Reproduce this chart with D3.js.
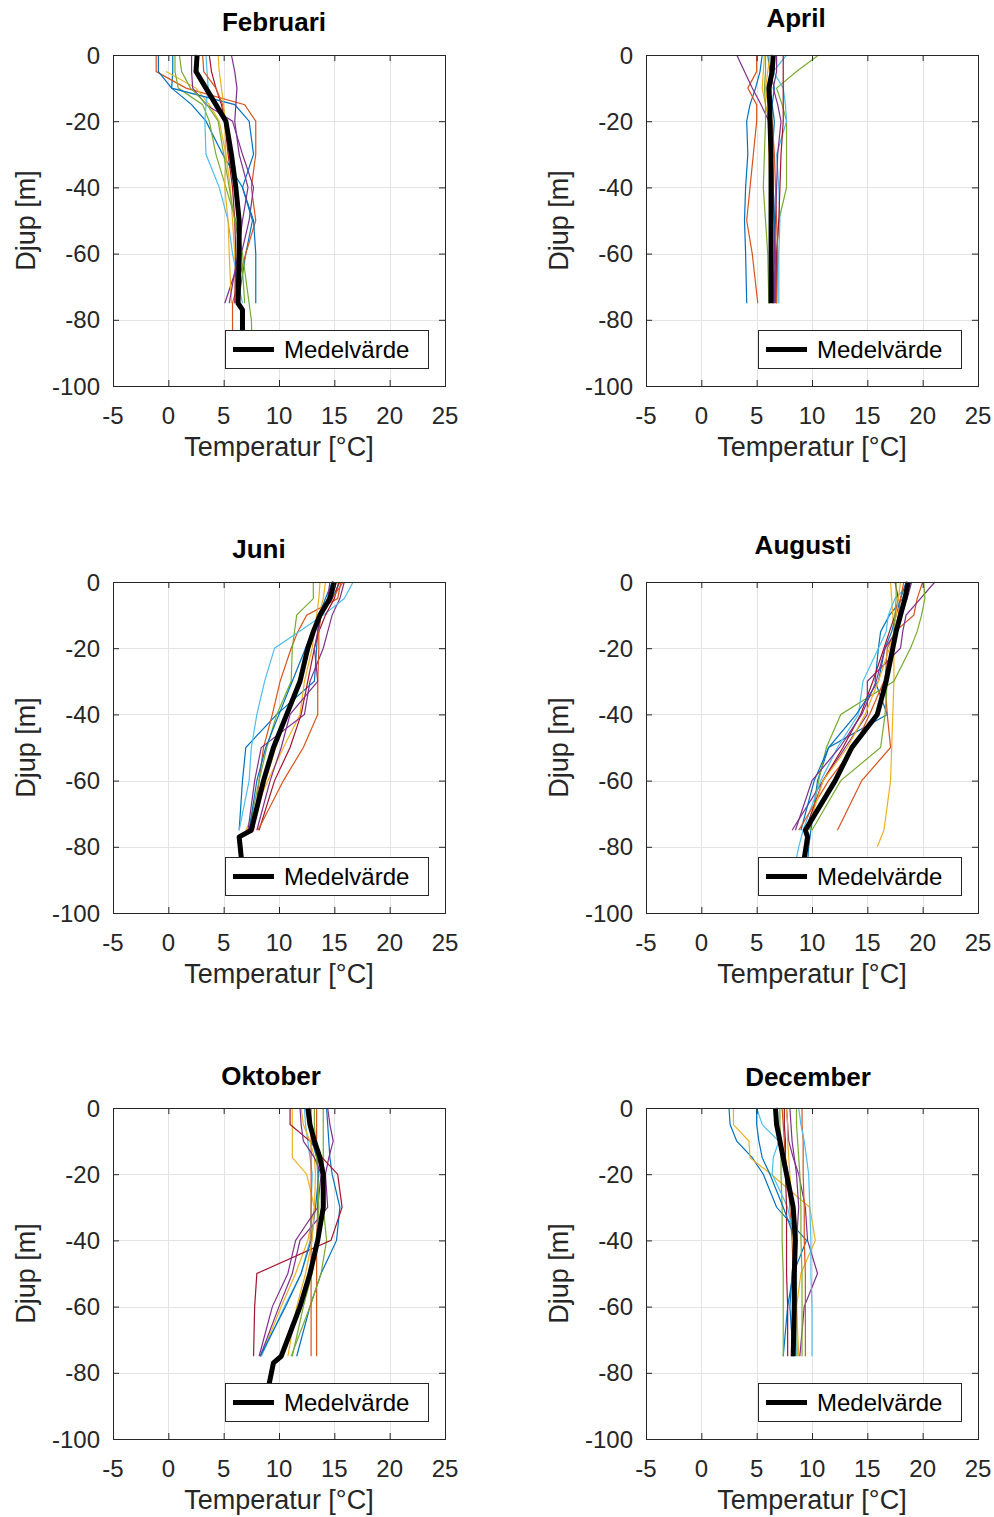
<!DOCTYPE html>
<html lang="sv">

<head>
    <meta charset="UTF-8">
    <title>Temperaturprofiler</title>
    <script src="https://d3js.org/d3.v7.min.js"></script>
    <style>
        body { margin: 0; background: #fff; }
        svg text { font-family: "Liberation Sans", Arial, sans-serif; }
    </style>
</head>

<body>
    <div id="chart"></div>

    <script>
        // depth levels [m] shared by all profiles (index 10/11 only used by the deep casts)
        const depths = [0, -5, -10, -15, -20, -30, -40, -50, -60, -75, -80, -90];
        // depth levels for the mean line
        const meanDepths = [0, -5, -10, -15, -20, -30, -40, -50, -60, -75, -77, -90];

        const months = ["Februari", "April", "Juni", "Augusti", "Oktober", "December"];

        const xTicks = [-5, 0, 5, 10, 15, 20, 25];
        const yTicks = [0, -20, -40, -60, -80, -100];

        // temperature [°C] per profile, one value per depth level (null = no value)
        const febProfiles = [
            [0.4, 0.4, 0.3, 2.1, 3.4, 4.9, 6.7, 7.6, 7.0, 6.3],
            [-1.1, -1.1, 1.6, 6.9, 7.9, 7.9, 7.5, 7.9, 7.0, 5.8, 5.8, 5.8],
            [null, -0.2, 2.5, 3.7, 4.6, 5.2, 5.6, 5.8, 6.0, 6.1],
            [2.1, 2.1, 2.2, 3.4, 5.8, 6.7, 7.7, 7.3, 6.6, 5.1],
            [0.6, 0.6, 0.9, 3.1, 3.7, 4.3, 5.2, 6.1, 6.7, 7.3, 7.5, 7.6],
            [3.4, 3.5, 3.6, 3.4, 3.3, 3.4, 4.6, 5.4, 5.8, 6.7],
            [3.7, 3.9, 4.3, 4.8, 5.1, 5.4, 5.8, 6.0, 6.1, 6.0],
            [-0.9, -0.9, 0.3, 6.0, 7.3, 7.7, 6.7, 7.7, 7.9, 7.9],
            [3.1, 3.2, 4.3, 4.9, 5.2, 5.5, 6.0, 6.3, 6.5, 6.4],
            [4.5, 4.6, 4.8, 5.0, 5.1, 5.2, 5.1, 5.4, 5.5, 5.7],
            [5.7, 6.0, 6.2, 6.1, 6.0, 6.4, 7.2, 6.7, 6.3, 5.5],
            [1.0, 1.2, 2.0, 3.5, 4.5, 5.0, 5.5, 6.0, 6.6, 6.9]
        ];
        const febMean = [2.6, 2.5, 3.4, 4.3, 5.2, 5.7, 6.1, 6.4, 6.4, 6.3, 6.7, 6.7];

        const aprProfiles = [
            [5.5, 5.3, 4.9, 4.4, 4.1, 4.2, 4.0, 3.9, 4.0, 4.1],
            [5.0, 5.0, 4.2, 5.0, 5.0, 4.7, 4.4, 4.1, 4.6, 5.1],
            [5.7, 5.6, 5.5, 5.8, 6.1, 6.1, 6.2, 6.2, 6.2, 6.2],
            [3.2, 3.9, 4.6, 5.4, 6.1, 6.4, 6.5, 6.6, 6.6, 6.6],
            [10.6, 8.6, 6.8, 7.3, 7.7, 7.7, 7.7, 7.0, 6.8, 6.1],
            [7.7, 6.5, 7.4, 7.6, 7.7, 6.8, 7.0, 7.1, 7.0, 7.0],
            [7.4, 7.4, 7.4, 7.4, 7.4, 7.2, 7.1, 7.0, 6.8, 6.8],
            [6.0, 6.2, 6.6, 6.4, 6.6, 6.4, 6.5, 6.6, 6.7, 6.7],
            [6.6, 6.5, 6.3, 6.2, 6.4, 6.6, 6.7, 6.8, 6.9, 6.8],
            [6.2, 6.0, 5.8, 6.0, 6.2, 6.3, 6.3, 6.4, 6.4, 6.5],
            [6.8, 6.8, 6.5, 6.9, 7.2, 6.9, 6.8, 6.7, 6.6, 6.5],
            [5.8, 5.8, 5.7, 5.8, 5.8, 5.7, 5.6, 5.8, 6.0, 6.1]
        ];
        const aprMean = [6.5, 6.4, 6.1, 6.2, 6.2, 6.3, 6.3, 6.3, 6.3, 6.3];

        const junProfiles = [
            [15.5, 14.8, 13.7, 13.5, 13.4, 13.2, 9.8, 7.0, 6.7, 6.4],
            [15.6, 15.3, 12.5, 11.7, 11.1, 10.1, 9.4, 8.6, 8.2, 7.7],
            [13.7, 13.6, 13.4, 13.2, 13.0, 12.3, 11.9, 10.4, 9.0, 7.0],
            [15.9, 15.5, 14.8, 14.4, 14.0, 12.8, 12.3, 8.4, 7.8, 7.2],
            [13.1, 13.1, 11.6, 11.4, 11.2, 11.1, 9.8, 8.9, 8.2, 7.3],
            [16.7, 15.9, 14.0, 11.8, 9.6, 8.7, 8.0, 7.5, 7.3, 6.4],
            [15.4, 15.0, 14.2, 13.6, 13.2, 12.6, 12.0, 11.0, 9.6, 8.2],
            [14.8, 14.2, 13.6, 13.0, 12.4, 11.2, 10.0, 8.8, 8.0, 7.3],
            [15.8, 14.8, 13.8, 13.6, 13.6, 13.5, 13.5, 12.2, 10.4, 8.1],
            [14.2, 14.0, 13.6, 13.1, 12.6, 11.8, 10.8, 9.7, 8.8, 7.6],
            [14.6, 14.4, 13.8, 13.5, 13.2, 13.5, 11.0, 10.2, 9.2, 8.0]
        ];
        const junMean = [15.0, 14.6, 13.7, 13.1, 12.6, 11.9, 10.7, 9.5, 8.6, 7.5, 6.4, 6.8];

        const augProfiles = [
            [18.7, 18.2, 17.0, 16.2, 16.0, 15.7, 16.8, 11.5, 10.5, 9.9, 9.7, 9.5],
            [20.0, 19.5, 19.2, 17.5, 16.8, 16.6, 16.8, 17.1, 14.5, 12.3],
            [17.1, 17.2, 17.3, 17.4, 17.4, 17.4, 17.3, 17.2, 17.1, 16.5, 15.9],
            [21.1, 19.8, 18.5, 18.2, 18.0, 15.0, 15.0, 13.0, 11.0, 8.2],
            [20.1, 20.2, 19.9, 19.5, 18.9, 17.4, 12.6, 11.3, 10.6, 9.8],
            [19.0, 17.5, 16.9, 16.7, 16.0, 14.6, 14.2, 12.3, 10.8, 9.2, 8.8, 8.2],
            [17.5, 17.8, 17.5, 17.0, 16.5, 15.5, 14.4, 12.8, 11.0, 9.4],
            [18.5, 18.0, 17.6, 17.2, 16.6, 16.0, 14.0, 11.5, 10.2, 9.0],
            [18.3, 18.0, 17.8, 17.5, 17.2, 16.5, 15.2, 13.8, 11.5, 8.8],
            [18.0, 17.8, 17.6, 17.4, 17.0, 16.0, 14.8, 13.2, 11.0, 9.6],
            [19.0, 18.6, 18.0, 17.6, 16.6, 15.8, 14.5, 12.5, 10.0, 8.5],
            [17.6, 17.6, 17.5, 17.4, 17.2, 16.8, 16.6, 16.2, 12.6, 10.0]
        ];
        const augMean = [18.7, 18.4, 18.0, 17.6, 17.3, 16.7, 15.9, 13.6, 12.1, 9.4, 9.6, 9.0];

        const oktProfiles = [
            [14.3, 14.4, 14.5, 14.6, 14.8, 15.5, 15.2, 13.8, 12.8, 11.6],
            [13.4, 13.4, 13.4, 13.5, 13.5, 13.5, 13.4, 13.4, 13.4, 13.4],
            [11.2, 11.2, 11.2, 11.2, 12.5, 13.2, 12.6, 11.5, 10.2, 8.4],
            [14.4, 14.6, 14.9, 14.5, 14.2, 14.4, 11.9, 11.2, 10.0, 8.3],
            [14.0, 14.0, 14.0, 14.0, 14.0, 14.0, 14.3, 13.8, 12.8, 11.1],
            [12.3, 12.4, 12.6, 12.8, 13.0, 12.9, 12.8, 12.0, 10.5, 8.4],
            [11.0, 11.0, 12.8, 13.9, 15.3, 15.7, 14.7, 8.0, 7.8, 7.7],
            [12.8, 12.9, 13.0, 13.4, 13.6, 13.3, 12.9, 12.0, 10.6, 8.3],
            [12.9, 12.9, 12.9, 12.9, 12.9, 12.9, 12.9, 12.9, 12.9, 12.9],
            [12.0, 12.2, 12.8, 13.2, 13.3, 13.2, 13.0, 12.4, 11.6, 10.8],
            [11.9, 12.0, 12.2, 13.2, 13.8, 13.5, 11.5, 10.8, 9.4, 8.2],
            [13.2, 13.2, 13.3, 13.4, 13.5, 13.6, 13.4, 13.0, 12.2, 11.2]
        ];
        const oktMean = [12.6, 12.8, 13.2, 13.7, 14.0, 14.0, 13.5, 12.8, 11.9, 10.2, 9.5, 8.7];

        const decProfiles = [
            [2.5, 2.6, 3.2, 4.6, 5.6, 6.8, 9.5, 8.3, 7.8, 7.4],
            [7.3, 7.4, 7.5, 7.6, 7.8, 8.0, 8.2, 8.3, 8.3, 8.4],
            [2.9, 2.9, 4.3, 4.4, 6.3, 9.8, 10.3, 9.0, 8.6, 8.8],
            [7.7, 7.8, 7.9, 8.3, 8.8, 9.4, 9.6, 10.5, 9.3, 8.9],
            [7.1, 7.1, 7.2, 7.2, 7.2, 7.3, 7.3, 7.4, 7.4, 7.4],
            [5.0, 5.5, 7.0, 6.5, 6.4, 7.8, 8.4, 8.6, 8.6, 8.6],
            [7.5, 7.5, 7.6, 7.6, 7.6, 7.7, 7.7, 7.7, 7.8, 7.8],
            [5.0, 5.0, 5.2, 5.5, 6.2, 7.4, 8.5, 8.2, 8.0, 8.3],
            [9.1, 9.1, 9.2, 9.2, 9.2, 9.3, 9.3, 9.4, 9.4, 9.4],
            [7.7, 7.8, 7.8, 7.9, 8.0, 8.2, 8.3, 8.4, 8.6, 8.7],
            [8.0, 8.1, 8.2, 8.4, 8.6, 8.8, 8.6, 8.4, 8.3, 8.2],
            [8.6, 8.6, 8.7, 8.8, 8.9, 9.0, 9.0, 9.1, 9.1, 9.1],
            [8.8, 9.0, 9.3, 9.5, 9.7, 9.8, 9.9, 9.9, 10.0, 10.0]
        ];
        const decMean = [6.7, 6.8, 7.1, 7.4, 7.7, 8.3, 8.5, 8.4, 8.4, 8.3];

        const allProfiles = [febProfiles, aprProfiles, junProfiles, augProfiles, oktProfiles, decProfiles];
        const allMeans = [febMean, aprMean, junMean, augMean, oktMean, decMean];

        // MATLAB default line colours
        const colors = ["#0072BD", "#D95319", "#EDB120", "#7E2F8E", "#77AC30", "#4DBEEE", "#A2142F"];

        // panel layout
        const colX = [113, 646];
        const rowY = [55, 582, 1108];
        const panelW = 332, panelH = 331;
        // title position per panel (x centre, baseline)
        const titlePos = [[274, 31], [796, 27], [259, 558], [803, 554], [271, 1085], [808, 1086]];

        const axisColor = "#262626";
        const gridColor = "#e3e3e3";

        const svg = d3.select("#chart")
            .append("svg")
            .attr("width", 994)
            .attr("height", 1517);

        months.forEach((month, i) => {
            const left = colX[i % 2];
            const top = rowY[Math.floor(i / 2)];

            const x = d3.scaleLinear().domain([-5, 25]).range([0, panelW]);
            const y = d3.scaleLinear().domain([-100, 0]).range([panelH, 0]);

            const g = svg.append("g")
                .attr("transform", `translate(${left},${top})`);

            // grid
            g.selectAll(".vgrid")
                .data(xTicks.slice(1, -1))
                .enter()
                .append("line")
                .attr("x1", d => Math.round(x(d)) + 0.5)
                .attr("x2", d => Math.round(x(d)) + 0.5)
                .attr("y1", 0)
                .attr("y2", panelH)
                .attr("stroke", gridColor);

            g.selectAll(".hgrid")
                .data(yTicks.slice(1, -1))
                .enter()
                .append("line")
                .attr("y1", d => Math.round(y(d)) + 0.5)
                .attr("y2", d => Math.round(y(d)) + 0.5)
                .attr("x1", 0)
                .attr("x2", panelW)
                .attr("stroke", gridColor);

            // profiles
            const line = d3.line()
                .defined(d => d[0] !== null)
                .x(d => x(d[0]))
                .y(d => y(d[1]));

            allProfiles[i].forEach((temps, k) => {
                g.append("path")
                    .datum(temps.map((t, j) => [t, depths[j]]))
                    .attr("fill", "none")
                    .attr("stroke", colors[k % colors.length])
                    .attr("stroke-width", 1.2)
                    .attr("d", line);
            });

            // mean line
            g.append("path")
                .datum(allMeans[i].map((t, j) => [t, meanDepths[j]]))
                .attr("fill", "none")
                .attr("stroke", "#000")
                .attr("stroke-width", 5)
                .attr("stroke-linejoin", "round")
                .attr("d", line);

            // axes: ticks inside on all four sides
            const bottomAxis = d3.axisBottom(x).tickValues(xTicks).tickSize(-6).tickFormat("");
            const topAxis = d3.axisTop(x).tickValues(xTicks).tickSize(-6).tickFormat("");
            const leftAxis = d3.axisLeft(y).tickValues(yTicks).tickSize(-6).tickFormat("");
            const rightAxis = d3.axisRight(y).tickValues(yTicks).tickSize(-6).tickFormat("");

            [
                [bottomAxis, `translate(0,${panelH})`],
                [topAxis, "translate(0,0)"],
                [leftAxis, "translate(0,0)"],
                [rightAxis, `translate(${panelW},0)`]
            ].forEach(([ax, tr]) => {
                const a = g.append("g").attr("transform", tr).call(ax);
                a.select(".domain").remove();
                a.selectAll("line").attr("stroke", axisColor);
            });

            g.append("rect")
                .attr("x", 0.5)
                .attr("y", 0.5)
                .attr("width", panelW)
                .attr("height", panelH)
                .attr("fill", "none")
                .attr("stroke", axisColor)
                .attr("stroke-width", 1);

            // tick labels
            g.selectAll(".xlab")
                .data(xTicks)
                .enter()
                .append("text")
                .attr("x", d => x(d))
                .attr("y", panelH + 38)
                .attr("text-anchor", "middle")
                .attr("font-size", 24)
                .attr("fill", axisColor)
                .text(d => d);

            g.selectAll(".ylab")
                .data(yTicks)
                .enter()
                .append("text")
                .attr("x", -13)
                .attr("y", d => y(d))
                .attr("dy", "0.36em")
                .attr("text-anchor", "end")
                .attr("font-size", 24)
                .attr("fill", axisColor)
                .text(d => d);

            // axis titles
            g.append("text")
                .attr("x", panelW / 2)
                .attr("y", panelH + 70)
                .attr("text-anchor", "middle")
                .attr("font-size", 27)
                .attr("fill", axisColor)
                .text("Temperatur [°C]");

            g.append("text")
                .attr("transform", `translate(-88,${panelH / 2}) rotate(-90)`)
                .attr("dy", "0.36em")
                .attr("text-anchor", "middle")
                .attr("font-size", 27)
                .attr("fill", axisColor)
                .text("Djup [m]");

            // panel title
            svg.append("text")
                .attr("x", titlePos[i][0])
                .attr("y", titlePos[i][1])
                .attr("text-anchor", "middle")
                .attr("font-size", 26)
                .attr("font-weight", "bold")
                .attr("fill", "#000")
                .text(month);

            // legend
            const lx = panelW - 220, ly = panelH - 56;
            const legend = g.append("g").attr("transform", `translate(${lx},${ly})`);
            legend.append("rect")
                .attr("x", 0.5)
                .attr("y", 0.5)
                .attr("width", 203)
                .attr("height", 38)
                .attr("fill", "#fff")
                .attr("stroke", axisColor)
                .attr("stroke-width", 1);
            legend.append("line")
                .attr("x1", 8)
                .attr("x2", 49)
                .attr("y1", 19.5)
                .attr("y2", 19.5)
                .attr("stroke", "#000")
                .attr("stroke-width", 5);
            legend.append("text")
                .attr("x", 59)
                .attr("y", 19.5)
                .attr("dy", "0.36em")
                .attr("font-size", 24)
                .attr("fill", "#000")
                .text("Medelvärde");
        });
    </script>

</body>

</html>
